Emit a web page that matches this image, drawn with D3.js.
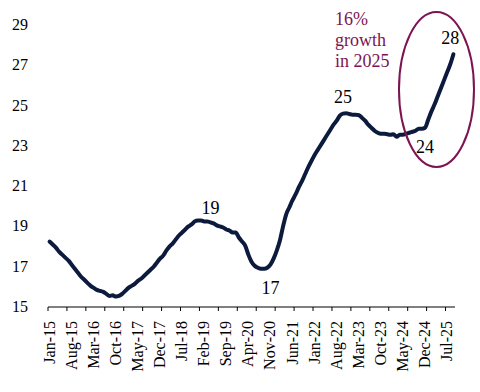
<!DOCTYPE html>
<html><head><meta charset="utf-8">
<script src="https://cdn.jsdelivr.net/npm/d3@7"></script>
<style>body{margin:0;background:#fff}svg{display:block}</style>
</head><body>
<svg id="c" width="480" height="392"></svg>
<script>
// Monthly categories Jan-15 .. Sep-25
const months = d3.timeMonths(new Date(2015,0,1), new Date(2025,9,1)).map(d3.timeFormat("%b-%y"));
const values = [
 18.25,18.1,17.95,17.75,17.6,17.45,17.3,17.1,16.9,16.7,16.5,16.35,
 16.2,16.05,15.95,15.85,15.8,15.75,15.65,15.55,15.58,15.52,15.55,15.65,
 15.8,15.95,16.05,16.15,16.3,16.4,16.55,16.7,16.85,17.0,17.2,17.4,
 17.55,17.8,18.0,18.15,18.35,18.55,18.7,18.85,19.0,19.1,19.25,19.3,
 19.3,19.25,19.25,19.2,19.15,19.05,19.0,18.95,18.85,18.8,18.7,18.7,
 18.45,18.25,18.05,17.6,17.25,17.05,16.95,16.9,16.9,16.95,17.1,17.4,
 17.8,18.3,19.0,19.6,19.95,20.3,20.6,20.95,21.25,21.6,21.95,22.25,
 22.55,22.8,23.05,23.3,23.55,23.8,24.05,24.25,24.5,24.6,24.62,24.58,
 24.55,24.55,24.52,24.4,24.25,24.05,23.9,23.75,23.65,23.6,23.6,23.58,
 23.55,23.58,23.45,23.55,23.55,23.6,23.65,23.7,23.75,23.85,23.85,23.9,
 24.3,24.7,25.05,25.45,25.85,26.25,26.65,27.05,27.55
];
const yTicks = [15,17,19,21,23,25,27,29];
const annotations = [
 {text:"19", month:"Apr-19", value:19.92},
 {text:"17", month:"Nov-20", value:15.94},
 {text:"25", month:"Oct-22", value:25.43},
 {text:"28", month:"Aug-25", value:28.36},
 {text:"24", month:"Dec-24", value:22.94}
];
const noteLines = ["16%","growth","in 2025"];

const svg = d3.select("#c");
const x = d3.scaleBand().domain(months).range([48,455]);
const y = d3.scaleLinear().domain([15,29]).range([307,25]);
const xc = m => x(m) + x.bandwidth()/2;

// x axis line
svg.append("line").attr("x1",48).attr("x2",455).attr("y1",y(15)).attr("y2",y(15))
  .attr("stroke","#000").attr("stroke-width",1);
// tick marks every 6 months at band boundaries
const tickIdx = d3.range(0, months.length+1, 6);
svg.selectAll(".tk").data(tickIdx).join("line")
  .attr("x1",i=>x.range()[0]+i*x.step()).attr("x2",i=>x.range()[0]+i*x.step())
  .attr("y1",y(15)).attr("y2",y(15)+4).attr("stroke","#000").attr("stroke-width",1);
// labels every 7 months
const labIdx = d3.range(0, months.length, 7);
svg.selectAll(".xl").data(labIdx).join("text")
  .attr("transform",i=>`translate(${xc(months[i])+5},${y(15)+14}) rotate(-90)`)
  .attr("text-anchor","end")
  .attr("font-family","Liberation Serif, Times New Roman, serif")
  .attr("font-size",16).attr("fill","#000")
  .text(i=>months[i]);
// y labels
svg.selectAll(".yl").data(yTicks).join("text")
  .attr("x",28).attr("y",d=>y(d)+5).attr("text-anchor","end")
  .attr("font-family","Liberation Serif, Times New Roman, serif")
  .attr("font-size",16).attr("fill","#000").text(d=>d);

// line
const line = d3.line().x((d,i)=>xc(months[i])).y(d=>y(d)).curve(d3.curveMonotoneX);
svg.append("path").datum(values).attr("d",line).attr("fill","none")
  .attr("stroke","#0c1a3d").attr("stroke-width",4).attr("stroke-linejoin","round").attr("stroke-linecap","round");

// annotations
svg.selectAll(".an").data(annotations).join("text")
  .attr("x",d=>xc(d.month)).attr("y",d=>y(d.value)+6)
  .attr("text-anchor","middle")
  .attr("font-family","Liberation Serif, Times New Roman, serif")
  .attr("font-size",18).attr("fill","#000").text(d=>d.text);

// ellipse
svg.append("ellipse").attr("cx",xc("Mar-25")+2).attr("cy",y(25.8)).attr("rx",37.5).attr("ry",77.5)
  .attr("fill","none").attr("stroke","#7d1452").attr("stroke-width",2);

// note
svg.append("text").attr("x",335).attr("y",25)
  .attr("font-family","Liberation Serif, Times New Roman, serif")
  .attr("font-size",18).attr("fill","#7d1452")
  .selectAll("tspan").data(noteLines).join("tspan")
  .attr("x",335).attr("dy",(d,i)=>i?21:0).text(d=>d);
</script>
</body></html>
